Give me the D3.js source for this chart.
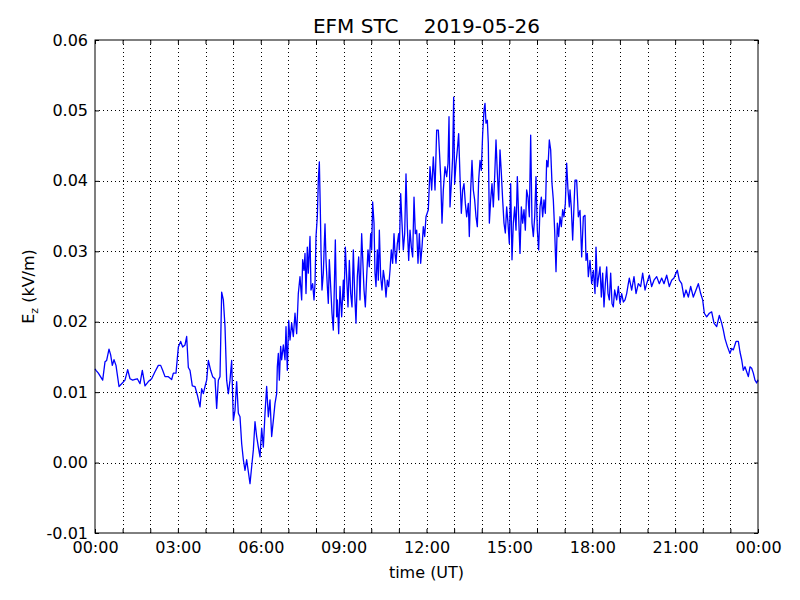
<!DOCTYPE html>
<html>
<head>
<meta charset="utf-8">
<script src="https://cdn.jsdelivr.net/npm/d3@7"></script>
<style>
  html, body { margin: 0; padding: 0; background: #ffffff; }
  svg { display: block; font-family: "DejaVu Sans", sans-serif; }
</style>
</head>
<body>
<svg id="chart" width="800" height="600"></svg>
<script>
// ---------------- data (time in hours UT, Ez in kV/m) ----------------
const hours = [
  0.000,0.036,0.121,0.278,0.362,0.422,0.507,0.567,0.627,0.688,0.760,0.869,0.965,1.086,1.183,1.267,1.364,1.448,1.532,1.629,
  1.713,1.810,1.931,2.051,2.172,2.293,2.377,2.449,2.534,2.655,2.775,2.836,2.932,3.017,3.101,3.174,3.258,3.318,3.379,3.439,
  3.523,3.620,3.704,3.801,3.861,3.922,3.982,4.042,4.103,4.187,4.259,4.344,4.404,4.465,4.525,4.585,4.646,4.706,4.766,4.827,
  4.887,4.947,5.008,5.068,5.128,5.189,5.249,5.309,5.370,5.430,5.490,5.551,5.611,5.671,5.732,5.792,5.852,5.913,5.973,6.033,
  6.094,6.154,6.214,6.275,6.335,6.395,6.456,6.516,6.576,6.600,6.637,6.673,6.721,6.757,6.818,6.878,6.914,6.962,7.011,7.059,
  7.119,7.179,7.240,7.300,7.360,7.421,7.481,7.517,7.566,7.602,7.638,7.686,7.722,7.783,7.819,7.879,7.928,7.964,8.000,8.048,
  8.084,8.121,8.157,8.181,8.217,8.265,8.326,8.362,8.410,8.446,8.483,8.531,8.579,8.627,8.664,8.700,8.748,8.772,8.821,8.869,
  8.929,8.989,9.014,9.062,9.110,9.158,9.207,9.255,9.303,9.351,9.400,9.448,9.496,9.545,9.593,9.653,9.689,9.738,9.786,9.834,
  9.882,9.930,9.979,10.015,10.051,10.100,10.136,10.172,10.220,10.256,10.293,10.341,10.389,10.437,10.486,10.534,10.582,10.631,10.679,10.727,
  10.775,10.824,10.860,10.896,10.944,10.993,11.017,11.065,11.113,11.161,11.210,11.258,11.306,11.355,11.403,11.451,11.499,11.548,11.596,11.644,
  11.692,11.741,11.789,11.837,11.885,11.934,11.982,12.066,12.127,12.187,12.247,12.308,12.368,12.428,12.465,12.513,12.561,12.609,12.670,12.730,
  12.778,12.815,12.851,12.899,12.947,12.983,13.019,13.068,13.116,13.164,13.213,13.261,13.309,13.357,13.406,13.454,13.514,13.550,13.599,13.647,
  13.695,13.743,13.792,13.840,13.888,13.937,13.985,14.033,14.081,14.118,14.154,14.202,14.238,14.275,14.323,14.371,14.419,14.468,14.516,14.564,
  14.612,14.661,14.709,14.757,14.805,14.854,14.902,14.950,14.998,15.047,15.095,15.143,15.192,15.240,15.288,15.336,15.385,15.433,15.481,15.529,
  15.578,15.626,15.674,15.722,15.771,15.819,15.867,15.916,15.964,16.012,16.060,16.109,16.157,16.205,16.253,16.302,16.350,16.398,16.446,16.495,
  16.543,16.591,16.639,16.688,16.736,16.784,16.833,16.881,16.929,16.977,17.026,17.074,17.122,17.170,17.195,17.240,17.291,17.376,17.436,17.496,
  17.557,17.617,17.678,17.738,17.774,17.822,17.858,17.919,17.979,18.039,18.100,18.136,18.184,18.232,18.281,18.329,18.377,18.425,18.474,18.522,
  18.570,18.618,18.667,18.715,18.763,18.811,18.884,18.944,19.005,19.065,19.125,19.186,19.246,19.306,19.342,19.427,19.511,19.584,19.668,19.753,
  19.825,19.910,19.970,20.066,20.151,20.235,20.332,20.428,20.513,20.597,20.694,20.790,20.875,20.959,21.032,21.080,21.152,21.237,21.321,21.394,
  21.478,21.563,21.659,21.756,21.840,21.925,21.997,22.057,22.142,22.238,22.323,22.407,22.504,22.600,22.685,22.745,22.805,22.890,22.986,23.047,
  23.107,23.204,23.288,23.348,23.409,23.469,23.529,23.590,23.650,23.710,23.771,23.831,23.891,23.952,23.988,24.000
];
const ez = [
  0.0133,0.0131,0.0127,0.0117,0.0143,0.0145,0.0161,0.0153,0.0138,0.0146,0.0138,0.0108,0.0112,0.0117,0.0132,0.0119,0.0117,0.0118,0.0119,0.0112,
  0.0131,0.0109,0.0115,0.0119,0.0129,0.0138,0.0138,0.0131,0.0122,0.0122,0.0118,0.0127,0.0127,0.0164,0.0172,0.0164,0.0167,0.0179,0.0135,0.0131,
  0.0109,0.0108,0.0096,0.0079,0.0105,0.0098,0.0108,0.0117,0.0145,0.0131,0.0122,0.0119,0.0077,0.0117,0.0122,0.0242,0.0231,0.0193,0.0117,0.0098,
  0.0117,0.0145,0.0060,0.0074,0.0115,0.0070,0.0065,0.0027,0.0004,-0.0011,0.0004,-0.0013,-0.0030,-0.0006,0.0018,0.0058,0.0037,0.0022,0.0008,0.0049,
  0.0022,0.0070,0.0108,0.0065,0.0089,0.0037,0.0060,0.0084,0.0098,0.0136,0.0155,0.0117,0.0165,0.0146,0.0167,0.0146,0.0193,0.0131,0.0202,0.0174,
  0.0198,0.0179,0.0212,0.0183,0.0240,0.0264,0.0231,0.0288,0.0273,0.0297,0.0240,0.0306,0.0269,0.0321,0.0245,0.0254,0.0231,0.0254,0.0321,0.0349,
  0.0401,0.0427,0.0358,0.0302,0.0245,0.0269,0.0339,0.0288,0.0250,0.0226,0.0288,0.0250,0.0212,0.0188,0.0250,0.0316,0.0207,0.0231,0.0183,0.0250,
  0.0207,0.0259,0.0231,0.0306,0.0264,0.0221,0.0287,0.0240,0.0221,0.0302,0.0240,0.0198,0.0264,0.0292,0.0231,0.0325,0.0292,0.0245,0.0221,0.0264,
  0.0302,0.0278,0.0325,0.0302,0.0370,0.0340,0.0269,0.0250,0.0302,0.0259,0.0330,0.0264,0.0245,0.0273,0.0259,0.0235,0.0259,0.0250,0.0273,0.0302,
  0.0283,0.0325,0.0297,0.0283,0.0311,0.0325,0.0302,0.0382,0.0340,0.0302,0.0325,0.0410,0.0335,0.0287,0.0330,0.0306,0.0292,0.0377,0.0325,0.0330,
  0.0283,0.0325,0.0283,0.0306,0.0335,0.0321,0.0349,0.0359,0.0420,0.0387,0.0434,0.0387,0.0472,0.0472,0.0444,0.0406,0.0340,0.0387,0.0420,0.0406,
  0.0425,0.0491,0.0363,0.0396,0.0434,0.0519,0.0396,0.0425,0.0444,0.0467,0.0406,0.0354,0.0387,0.0396,0.0368,0.0349,0.0368,0.0321,0.0387,0.0429,
  0.0387,0.0373,0.0349,0.0335,0.0401,0.0429,0.0415,0.0467,0.0500,0.0510,0.0482,0.0486,0.0453,0.0340,0.0373,0.0396,0.0363,0.0406,0.0458,0.0411,
  0.0373,0.0444,0.0411,0.0373,0.0340,0.0326,0.0363,0.0340,0.0311,0.0396,0.0288,0.0340,0.0363,0.0330,0.0406,0.0349,0.0297,0.0363,0.0340,0.0359,
  0.0330,0.0387,0.0377,0.0349,0.0465,0.0340,0.0321,0.0349,0.0406,0.0330,0.0302,0.0363,0.0377,0.0349,0.0373,0.0354,0.0429,0.0420,0.0458,0.0444,
  0.0396,0.0373,0.0330,0.0271,0.0340,0.0321,0.0349,0.0335,0.0359,0.0349,0.0368,0.0425,0.0387,0.0363,0.0387,0.0363,0.0316,0.0401,0.0401,0.0349,
  0.0358,0.0292,0.0349,0.0351,0.0287,0.0297,0.0264,0.0287,0.0254,0.0273,0.0240,0.0306,0.0250,0.0264,0.0278,0.0235,0.0269,0.0221,0.0254,0.0278,
  0.0240,0.0231,0.0269,0.0226,0.0221,0.0245,0.0231,0.0250,0.0226,0.0240,0.0228,0.0231,0.0240,0.0254,0.0262,0.0245,0.0264,0.0240,0.0254,0.0250,
  0.0269,0.0245,0.0254,0.0266,0.0250,0.0259,0.0264,0.0254,0.0262,0.0254,0.0266,0.0250,0.0259,0.0262,0.0269,0.0273,0.0259,0.0254,0.0235,0.0245,
  0.0235,0.0250,0.0235,0.0245,0.0254,0.0240,0.0231,0.0212,0.0207,0.0212,0.0214,0.0198,0.0193,0.0209,0.0198,0.0188,0.0176,0.0165,0.0155,0.0162,
  0.0160,0.0172,0.0172,0.0157,0.0146,0.0131,0.0136,0.0129,0.0122,0.0136,0.0134,0.0127,0.0117,0.0113,0.0117,0.0115
];

const xTickHours  = [0, 3, 6, 9, 12, 15, 18, 21, 24];
const xTickLabels = ["00:00","03:00","06:00","09:00","12:00","15:00","18:00","21:00","00:00"];
const xMinorHours = d3.range(0, 25, 1);
const yTickValues = [-0.01, 0.00, 0.01, 0.02, 0.03, 0.04, 0.05, 0.06];
const yTickLabels = ["-0.01","0.00","0.01","0.02","0.03","0.04","0.05","0.06"];
const titleText   = "EFM STC    2019-05-26";
const xLabelText  = "time (UT)";

// ---------------- drawing ----------------
const svg = d3.select("#chart");
const L = 95, R = 758, T = 40, B = 533;

const x = d3.scaleLinear().domain([0, 24]).range([L, R]);
const y = d3.scaleLinear().domain([-0.01, 0.06]).range([B, T]);

svg.append("rect").attr("width", 800).attr("height", 600).attr("fill", "#fff");

// grid (black dotted)
const grid = svg.append("g").attr("stroke", "#000").attr("stroke-width", 1)
  .attr("stroke-dasharray", "1,3").attr("fill", "none").attr("shape-rendering", "crispEdges");
grid.selectAll("line.v").data(xMinorHours.filter(h => h > 0 && h < 24)).join("line")
  .attr("class", "v")
  .attr("x1", d => Math.round(x(d)) + 0.5).attr("x2", d => Math.round(x(d)) + 0.5)
  .attr("y1", T).attr("y2", B);
grid.selectAll("line.h").data(yTickValues.slice(1, -1)).join("line")
  .attr("class", "h")
  .attr("x1", L).attr("x2", R)
  .attr("y1", d => Math.round(y(d)) + 0.5).attr("y2", d => Math.round(y(d)) + 0.5);

// data line
const data = hours.map((h, i) => [h, ez[i]]);
svg.append("path")
  .datum(data)
  .attr("fill", "none")
  .attr("stroke", "#0000ff")
  .attr("stroke-width", 1.3)
  .attr("stroke-linejoin", "round")
  .attr("d", d3.line().x(d => x(d[0])).y(d => y(d[1])));

// axes
const fmtX = d => { const i = xTickHours.indexOf(d); return i >= 0 ? xTickLabels[i] : ""; };
const gB = svg.append("g").attr("transform", `translate(0,${B})`)
  .call(d3.axisBottom(x).tickValues(xMinorHours).tickFormat(fmtX).tickSize(-4).tickPadding(9));
const gT = svg.append("g").attr("transform", `translate(0,${T})`)
  .call(d3.axisTop(x).tickValues(xMinorHours).tickFormat(() => "").tickSize(-4));
const gL = svg.append("g").attr("transform", `translate(${L},0)`)
  .call(d3.axisLeft(y).tickValues(yTickValues).tickFormat((d, i) => yTickLabels[i]).tickSize(-4).tickPadding(7));
const gR = svg.append("g").attr("transform", `translate(${R},0)`)
  .call(d3.axisRight(y).tickValues(yTickValues).tickFormat(() => "").tickSize(-4));

[gB, gT, gL, gR].forEach(g => {
  g.select(".domain").remove();
  g.selectAll("text").attr("font-family", "DejaVu Sans, sans-serif").attr("font-size", 16).attr("fill", "#000");
  g.selectAll(".tick line").attr("stroke", "#000").attr("stroke-width", 1);
});

// frame
svg.append("rect").attr("x", L).attr("y", T).attr("width", R - L).attr("height", B - T)
  .attr("fill", "none").attr("stroke", "#000").attr("stroke-width", 1);

// title
svg.append("text").attr("x", (L + R) / 2).attr("y", 33).attr("text-anchor", "middle")
  .attr("font-size", 20).attr("fill", "#000").style("white-space", "pre").text(titleText);

// x label
svg.append("text").attr("x", (L + R) / 2).attr("y", 578).attr("text-anchor", "middle")
  .attr("font-size", 16).attr("fill", "#000").text(xLabelText);

// y label
const yl = svg.append("text").attr("transform", `translate(34,${(T + B) / 2}) rotate(-90)`)
  .attr("text-anchor", "middle").attr("font-size", 16).attr("fill", "#000");
yl.append("tspan").text("E");
yl.append("tspan").attr("font-size", 11).attr("dy", 4).text("z");
yl.append("tspan").attr("dy", -4).text(" (kV/m)");
</script>
</body>
</html>
